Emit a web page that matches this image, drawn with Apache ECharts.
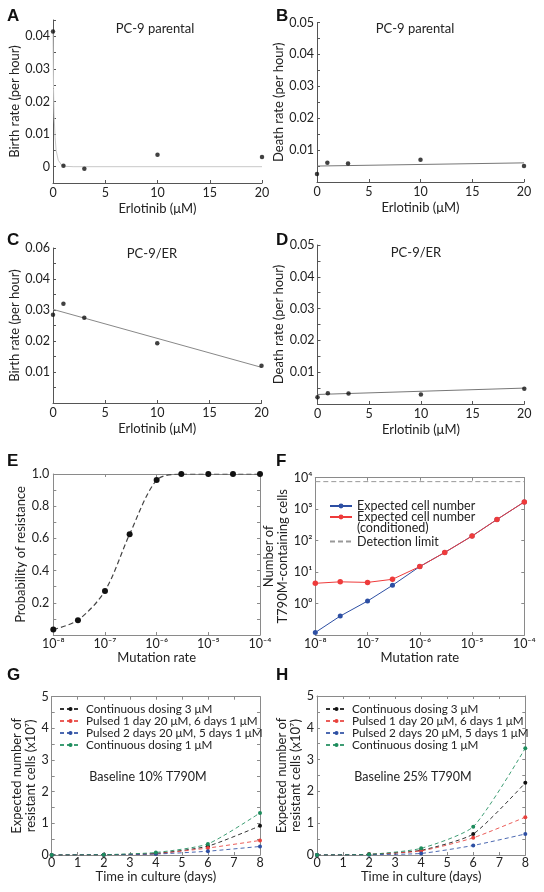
<!DOCTYPE html>
<html><head><meta charset="utf-8">
<script src="https://cdn.jsdelivr.net/npm/echarts@6/dist/echarts.min.js"></script>
<style>html,body{margin:0;padding:0;background:#fff}#c{width:544px;height:892px}</style>
</head><body><div id="c"></div>
<script>
// ---------- DATA ----------
const doseX = [0, 1, 3, 10, 20];
const birthA = [0.0415, 0.0003, -0.0006, 0.0037, 0.0030];
const fitAx = [0, 0.05, 0.1, 0.2, 0.3, 0.5, 0.8, 1.2, 2, 20];
const fitAy = [0.041, 0.024, 0.016, 0.009, 0.005, 0.002, 0.0006, 0.0001, 0, 0];
const deathB = [0.0025, 0.0060, 0.0058, 0.0070, 0.0050];
const fitBx = [0, 20];
const fitBy = [0.0050, 0.0060];
const birthC = [0.0285, 0.0320, 0.0275, 0.0193, 0.0120];
const fitCx = [0, 20];
const fitCy = [0.0302, 0.0115];
const deathD = [0.0021, 0.0034, 0.0033, 0.0030, 0.0048];
const fitDx = [0, 20];
const fitDy = [0.0030, 0.0050];
const mutRate = [1e-8, 3e-8, 1e-7, 3e-7, 1e-6, 3e-6, 1e-5, 3e-5, 1e-4];
const probE = [0.034, 0.092, 0.274, 0.626, 0.962, 1, 1, 1, 1];
const expectedF = [0.12, 0.40, 1.2, 3.8, 15, 42, 140, 470, 1700];
const conditionedF = [4.4, 4.9, 4.7, 5.9, 15, 42, 140, 470, 1700];
const detectionLimit = [7500, 7500];
const detectionX = [1e-8, 1e-4];
const days = [0, 2, 4, 6, 8];
const gCont3 = [0, 0.01, 0.05, 0.28, 0.92];
const gPulse1 = [0, 0.01, 0.04, 0.22, 0.46];
const gPulse2 = [0, 0.01, 0.03, 0.12, 0.27];
const gCont1 = [0, 0.01, 0.08, 0.35, 1.33];
const hCont3 = [0, 0.02, 0.15, 0.66, 2.27];
const hPulse1 = [0, 0.02, 0.13, 0.54, 1.19];
const hPulse2 = [0, 0.01, 0.05, 0.30, 0.66];
const hCont1 = [0, 0.02, 0.21, 0.89, 3.36];
const seriesNamesGH = ['Continuous dosing 3 \u03bcM', 'Pulsed 1 day 20 \u03bcM, 6 days 1 \u03bcM', 'Pulsed 2 days 20 \u03bcM, 5 days 1 \u03bcM', 'Continuous dosing 1 \u03bcM'];
const namesF = ['Expected cell number', 'Expected cell number\n(conditioned)', 'Detection limit'];
const yTicksA = [0, 0.01, 0.02, 0.03, 0.04];
const yTicksBD = [0.01, 0.02, 0.03, 0.04, 0.05];
const yTicksC = [0.01, 0.02, 0.03, 0.04, 0.05];
const yLabelsC = ['0.01', '0.02', '0.03', '0.04', '0.06'];
const xTicksDose = [0, 5, 10, 15, 20];
const yTicksE = [0.2, 0.4, 0.6, 0.8, 1.0];
const logExpLabels = {'-8': '10\u207b\u2078', '-7': '10\u207b\u2077', '-6': '10\u207b\u2076', '-5': '10\u207b\u2075', '-4': '10\u207b\u2074', '0': '10\u2070', '1': '10\u00b9', '2': '10\u00b2', '3': '10\u00b3', '4': '10\u2074'};
const yTicksGH = [0, 1, 2, 3, 4, 5];
const xTicksGH = [0, 1, 2, 3, 4, 5, 6, 7, 8];

// ---------- STYLE ----------
const FONT = 'Lato, "Open Sans", sans-serif';
const AX = '#555';
const pair = (xs, ys) => xs.map((x, i) => [x, ys[i]]);
const inList = (v, list) => list.findIndex(t => Math.abs(t - v) < 1e-9);
const colors = ['#111111', '#e8413c', '#2d4fa3', '#1c8c5c'];

const grids = [
  {left: 53, top: 20, width: 209, height: 163},
  {left: 317, top: 22.5, width: 207, height: 159.5},
  {left: 53, top: 248, width: 208.5, height: 155},
  {left: 317.5, top: 245, width: 206.8, height: 159},
  {left: 53.3, top: 474, width: 206.7, height: 161},
  {left: 315.3, top: 477.7, width: 209, height: 157.3},
  {left: 51.7, top: 696.7, width: 208.3, height: 158.3},
  {left: 317, top: 696, width: 208.3, height: 159}
];

function baseAxis(gi, extra) {
  return Object.assign({
    gridIndex: gi, type: 'value',
    axisLine: {show: true, onZero: false, lineStyle: {color: AX, width: 1}},
    axisTick: {show: true, inside: true, length: 3, lineStyle: {color: AX}},
    splitLine: {show: false},
    axisLabel: {color: '#222', fontSize: 12.5, fontFamily: FONT, margin: 4},
    nameLocation: 'middle',
    nameTextStyle: {color: '#222', fontSize: 13, fontFamily: FONT, lineHeight: 14}
  }, extra);
}
function listFmt(list, labels) {
  return v => { const i = inList(v, list); return i < 0 ? '' : (labels ? labels[i] : String(v)); };
}
const logFmt = v => { const e = Math.round(Math.log10(v)); return logExpLabels[String(e)] || ''; };

const xAxes = [], yAxes = [];
for (let g = 0; g < 4; g++) {
  xAxes.push(baseAxis(g, {min: 0, max: 20, interval: 5, name: 'Erlotinib (\u03bcM)', nameGap: 19,
    axisLabel: {color: '#222', fontSize: 12.5, fontFamily: FONT, margin: 3, formatter: listFmt(xTicksDose)}}));
}
yAxes.push(baseAxis(0, {min: -0.005, max: 0.045, interval: 0.005, name: 'Birth rate (per hour)', nameGap: 26,
  axisLabel: {color: '#222', fontSize: 12.5, fontFamily: FONT, margin: 3, formatter: listFmt(yTicksA)}}));
yAxes.push(baseAxis(1, {min: 0, max: 0.05, interval: 0.005, name: 'Death rate (per hour)', nameGap: 27,
  axisLabel: {color: '#222', fontSize: 12.5, fontFamily: FONT, margin: 3, formatter: listFmt(yTicksBD)}}));
yAxes.push(baseAxis(2, {min: 0, max: 0.05, interval: 0.005, name: 'Birth rate (per hour)', nameGap: 26,
  axisLabel: {color: '#222', fontSize: 12.5, fontFamily: FONT, margin: 3, formatter: listFmt(yTicksC, yLabelsC)}}));
yAxes.push(baseAxis(3, {min: 0, max: 0.05, interval: 0.005, name: 'Death rate (per hour)', nameGap: 27,
  axisLabel: {color: '#222', fontSize: 12.5, fontFamily: FONT, margin: 3, formatter: listFmt(yTicksBD)}}));
const FRAME = '#8a8a8a';
for (let g = 4; g < 6; g++) {
  xAxes.push(baseAxis(g, {type: 'log', logBase: 10, min: 1e-8, max: 1e-4, name: 'Mutation rate', nameGap: 13,
    axisLine: {show: true, onZero: false, lineStyle: {color: FRAME}},
    axisTick: {show: true, inside: true, length: 3, lineStyle: {color: FRAME}},
    axisLabel: {color: '#222', fontSize: 12.5, fontFamily: FONT, margin: 2, formatter: logFmt}}));
}
yAxes.push(baseAxis(4, {min: 0, max: 1, interval: 0.1, name: 'Probability of resistance', nameGap: 25,
  axisLine: {show: true, onZero: false, lineStyle: {color: FRAME}},
  axisTick: {show: true, inside: true, length: 3, lineStyle: {color: FRAME}},
  axisLabel: {color: '#222', fontSize: 12.5, fontFamily: FONT, margin: 4, formatter: v => inList(v, yTicksE) < 0 ? '' : v.toFixed(1)}}));
yAxes.push(baseAxis(5, {type: 'log', logBase: 10, min: 0.1, max: 1e4, name: 'Number of\nT790M-containing cells', nameGap: 22,
  axisLine: {show: true, onZero: false, lineStyle: {color: FRAME}},
  axisTick: {show: true, inside: true, length: 3, lineStyle: {color: FRAME}},
  axisLabel: {color: '#222', fontSize: 12.5, fontFamily: FONT, margin: 3, formatter: v => (v < 0.5 ? '' : logFmt(v))}}));
for (let g = 6; g < 8; g++) {
  xAxes.push(baseAxis(g, {min: 0, max: 8, interval: 1, name: 'Time in culture (days)', nameGap: 13,
    axisLine: {show: true, onZero: false, lineStyle: {color: FRAME}},
    axisTick: {show: true, inside: true, length: 3, lineStyle: {color: FRAME}},
    axisLabel: {color: '#222', fontSize: 12.5, fontFamily: FONT, margin: 1, formatter: listFmt(xTicksGH)}}));
  yAxes.push(baseAxis(g, {min: 0, max: 5, interval: 0.5, name: 'Expected number of\nresistant cells (x10\u2077)', nameGap: g === 6 ? 14 : 12,
    axisLine: {show: true, onZero: false, lineStyle: {color: FRAME}},
    axisTick: {show: true, inside: true, length: 3, lineStyle: {color: FRAME}},
    axisLabel: {color: '#222', fontSize: 12.5, fontFamily: FONT, margin: 3, formatter: listFmt(yTicksGH)}}));
}
for (let g = 4; g < 8; g++) {
  const bx = xAxes[g], by = yAxes[g];
  xAxes.push({gridIndex: g, type: bx.type, logBase: 10, min: bx.min, max: bx.max, interval: bx.interval, position: 'top',
    axisLine: {show: true, onZero: false, lineStyle: {color: FRAME}},
    axisTick: {show: true, inside: true, length: 3, lineStyle: {color: FRAME}},
    axisLabel: {show: false}, splitLine: {show: false}});
  yAxes.push({gridIndex: g, type: by.type, logBase: 10, min: by.min, max: by.max, interval: by.interval, position: 'right',
    axisLine: {show: true, onZero: false, lineStyle: {color: FRAME}},
    axisTick: {show: true, inside: true, length: 3, lineStyle: {color: FRAME}},
    axisLabel: {show: false}, splitLine: {show: false}});
}

const series = [];
function fitLine(gi, xs, ys, color) {
  series.push({type: 'line', xAxisIndex: gi, yAxisIndex: gi, data: pair(xs, ys), showSymbol: false, symbol: 'none',
    lineStyle: {color: color, width: 1}, silent: true, z: 2, animation: false});
}
function dots(gi, xs, ys) {
  series.push({type: 'scatter', xAxisIndex: gi, yAxisIndex: gi, data: pair(xs, ys), symbolSize: 4.5,
    itemStyle: {color: '#111'}, z: 3, animation: false});
}
fitLine(0, fitAx, fitAy, '#c8c8c8'); dots(0, doseX, birthA);
fitLine(1, fitBx, fitBy, '#777'); dots(1, doseX, deathB);
fitLine(2, fitCx, fitCy, '#888'); dots(2, doseX, birthC);
fitLine(3, fitDx, fitDy, '#777'); dots(3, doseX, deathD);
series.push({type: 'line', xAxisIndex: 4, yAxisIndex: 4, data: pair(mutRate, probE), smooth: 0.3,
  symbol: 'circle', symbolSize: 6, itemStyle: {color: '#111'}, lineStyle: {color: '#444', width: 1.2, type: [5, 3]}, animation: false});
series.push({type: 'line', name: namesF[0], xAxisIndex: 5, yAxisIndex: 5, data: pair(mutRate, expectedF),
  symbol: 'circle', symbolSize: 5, itemStyle: {color: '#2d4fa3'}, lineStyle: {color: '#2d4fa3', width: 1}, animation: false, z: 2});
series.push({type: 'line', name: namesF[1], xAxisIndex: 5, yAxisIndex: 5, data: pair(mutRate, conditionedF),
  symbol: 'circle', symbolSize: 5.5, itemStyle: {color: '#ee3b3b'}, lineStyle: {color: '#ee3b3b', width: 1}, animation: false, z: 3});
series.push({type: 'line', name: namesF[2], xAxisIndex: 5, yAxisIndex: 5, data: pair(detectionX, detectionLimit),
  symbol: 'none', itemStyle: {color: '#999'}, lineStyle: {color: '#999', width: 1, type: [5, 3]}, animation: false, z: 1});
const gSets = [gCont3, gPulse1, gPulse2, gCont1];
const hSets = [hCont3, hPulse1, hPulse2, hCont1];
[[6, gSets], [7, hSets]].forEach(([gi, sets]) => {
  sets.forEach((vals, k) => {
    series.push({type: 'line', name: seriesNamesGH[k], xAxisIndex: gi, yAxisIndex: gi, data: pair(days, vals),
      symbol: 'circle', symbolSize: 4, itemStyle: {color: colors[k]}, smooth: 0.2,
      lineStyle: {color: colors[k], width: 1, type: [4, 3], opacity: 0.85}, animation: false, z: k === 3 ? 4 : 3});
  });
});

const legF = {color: '#222', fontSize: 12.5, fontFamily: FONT, lineHeight: 11};
const legGH = {color: '#222', fontSize: 11.7, fontFamily: FONT, lineHeight: 12};
const legends = [
  {data: [namesF[0]], orient: 'vertical', left: 329, top: 499.5, padding: 0, itemWidth: 22, itemHeight: 6,
    textStyle: legF, selectedMode: false},
  {data: [namesF[1]], orient: 'vertical', left: 329, top: 500, padding: 0, itemWidth: 22, itemHeight: 6,
    formatter: n => ' \n' + n,
    textStyle: Object.assign({}, legF, {lineHeight: 10.5}), selectedMode: false},
  {data: [{name: namesF[2], itemStyle: {color: 'rgba(0,0,0,0)', opacity: 0}}], orient: 'vertical', left: 329, top: 535, padding: 0, itemWidth: 22, itemHeight: 6,
    textStyle: legF, selectedMode: false},
  {data: seriesNamesGH, orient: 'vertical', left: 54, top: 698, itemWidth: 21, itemHeight: 5, itemGap: 0,
    textStyle: legGH, selectedMode: false},
  {data: seriesNamesGH, orient: 'vertical', left: 320, top: 698, itemWidth: 21, itemHeight: 5, itemGap: 0,
    textStyle: legGH, selectedMode: false}
];

function txt(x, y, s, size, bold, align) {
  return {type: 'text', left: x, top: y, style: {text: s, fill: '#111', fontSize: size, fontWeight: bold ? 'bold' : 'normal',
    fontFamily: bold ? '"Liberation Sans", Arial, sans-serif' : FONT, textAlign: align || 'left'}};
}
function ctext(cx, cy, s, size) {
  return {type: 'text', x: cx, y: cy, style: {text: s, fill: '#222', fontSize: size, fontFamily: FONT, textAlign: 'center', textVerticalAlign: 'middle'}};
}
const graphics = [
  txt(7, 8, 'A', 17, true), txt(276, 8, 'B', 17, true),
  txt(7, 232, 'C', 17, true), txt(276, 232, 'D', 17, true),
  txt(7, 453, 'E', 17, true), txt(276, 453, 'F', 17, true),
  txt(7, 667, 'G', 17, true), txt(276, 667, 'H', 17, true),
  ctext(155, 29, 'PC-9 parental', 13), ctext(415, 29, 'PC-9 parental', 13),
  ctext(152, 254, 'PC-9/ER', 13), ctext(416, 253, 'PC-9/ER', 13),
  ctext(148, 777, 'Baseline 10% T790M', 12.5), ctext(413, 777, 'Baseline 25% T790M', 12.5)
];

const chart = echarts.init(document.getElementById('c'), null, {renderer: 'canvas'});
chart.setOption({
  animation: false,
  backgroundColor: '#fff',
  grid: grids,
  xAxis: xAxes,
  yAxis: yAxes,
  legend: legends,
  series: series,
  graphic: graphics
});
</script></body></html>
